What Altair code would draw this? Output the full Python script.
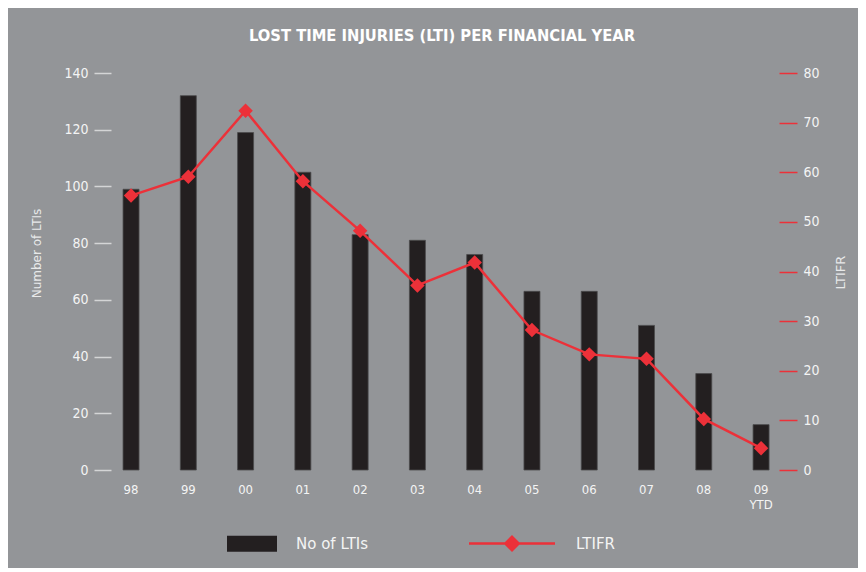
import altair as alt
import pandas as pd

# ---- data ----
years = ["98", "99", "00", "01", "02", "03", "04", "05", "06", "07", "08", "09 YTD"]
lti_counts = [99, 132, 119, 105, 83, 81, 76, 63, 63, 51, 34, 16]
ltifr_values = [55.3, 59.1, 72.4, 58.2, 48.2, 37.2, 41.8, 28.2, 23.3, 22.4, 10.3, 4.4]
series_names = ["No of LTIs", "LTIFR"]
left_ticks = [0, 20, 40, 60, 80, 100, 120, 140]
right_ticks = [0, 10, 20, 30, 40, 50, 60, 70, 80]

BG = "#939598"
BAR = "#231f20"
RED = "#ec3139"
WHITE = "#f4f4f4"
TICK_GREY = "#d4d5d6"
NARROW = "Liberation Sans Narrow, DejaVu Sans Condensed, sans-serif"
COND = "DejaVu Sans Condensed, Liberation Sans Narrow, sans-serif"
SANS = "DejaVu Sans, sans-serif"

df = pd.DataFrame({"year": years, "lti": lti_counts, "ltifr": ltifr_values})

x_enc = alt.X(
    "year:N",
    sort=years,
    scale=alt.Scale(type="band", paddingInner=0, paddingOuter=0),
    axis=alt.Axis(
        title=None, domain=False, ticks=False, labelAngle=0,
        labelExpr="split(datum.value, ' ')",
        labelColor=WHITE, labelFont=COND, labelFontSize=13,
        labelLineHeight=15, labelPadding=13,
    ),
)

y_left = alt.Y(
    "lti:Q",
    scale=alt.Scale(domain=[0, 140], nice=False),
    axis=alt.Axis(
        orient="left", values=left_ticks, domain=False, grid=False,
        offset=-8.6, tickSize=17, tickWidth=1.5, tickColor=TICK_GREY,
        labelColor=WHITE, labelFont=COND, labelFontSize=14, labelPadding=6,
        title="Number of LTIs", titleColor="#e8e9ea", titleFont=SANS,
        titleFontSize=12, titleFontWeight="normal", titleAngle=270,
        titleX=-75, titleY=180, titleBaseline="middle", titleAlign="center",
    ),
)

y_right = alt.Y(
    "ltifr:Q",
    scale=alt.Scale(domain=[0, 80], nice=False),
    axis=alt.Axis(
        orient="right", values=right_ticks, domain=False, grid=False,
        offset=-10.7, tickSize=18, tickWidth=1.5, tickColor=RED,
        labelColor=WHITE, labelFont=COND, labelFontSize=14, labelPadding=6,
        title="LTIFR", titleColor="#e8e9ea", titleFont=SANS,
        titleFontSize=13, titleFontWeight="normal", titleAngle=270,
        titleX=61, titleY=199, titleBaseline="middle", titleAlign="center",
    ),
)

base = alt.Chart(df)

bars = base.mark_bar(size=16, color=BAR, stroke="#4b4b4d", strokeWidth=0.8).encode(
    x=x_enc, y=y_left
)

line = base.mark_line(color=RED, strokeWidth=2.5).encode(x=x_enc, y=y_right)
points = base.mark_point(shape="diamond", filled=True, size=210, color=RED, opacity=1).encode(
    x=x_enc, y=y_right
)

rect_path = "M-0.588,-0.941H5.294V0.941H-0.588Z"
line_path = "M-5.059,-0.147H5.059V0.147H-5.059Z M0,-1L1,0L0,1L-1,0Z"

legend_def = alt.Legend(
    title=None, orient="none", direction="horizontal",
    legendX=121.1, legendY=462,
    symbolSize=289, symbolStrokeWidth=0, symbolOpacity=1,
    labelOffset=55.5, columnPadding=100,
    labelColor=WHITE, labelFont=SANS, labelFontSize=15,
)

legend_layer = base.mark_point(filled=True, opacity=0).transform_calculate(
    series="'LTIFR'"
).encode(
    x=x_enc,
    y=y_right,
    color=alt.Color("series:N", scale=alt.Scale(domain=series_names, range=[BAR, RED]), legend=legend_def),
    shape=alt.Shape("series:N", scale=alt.Scale(domain=series_names, range=[rect_path, line_path]), legend=legend_def),
)

right = alt.layer(line, points, legend_layer)

chart = (
    alt.layer(bars, right)
    .resolve_scale(y="independent")
    .properties(
        width=687.3,
        height=397,
        background=BG,
        padding={"left": 94.4, "top": 65, "right": 68.3, "bottom": 98},
        autosize=alt.AutoSizeParams(type="none"),
        title=alt.TitleParams(
            "LOST TIME INJURIES (LTI) PER FINANCIAL YEAR",
            font=NARROW, fontSize=16.4, fontWeight="bold", color="white",
            anchor="middle", offset=22, dx=-4,
        ),
    )
    .configure_view(strokeWidth=0)
)

chart.save("out.html", embed_options={"renderer": "svg", "actions": False})
